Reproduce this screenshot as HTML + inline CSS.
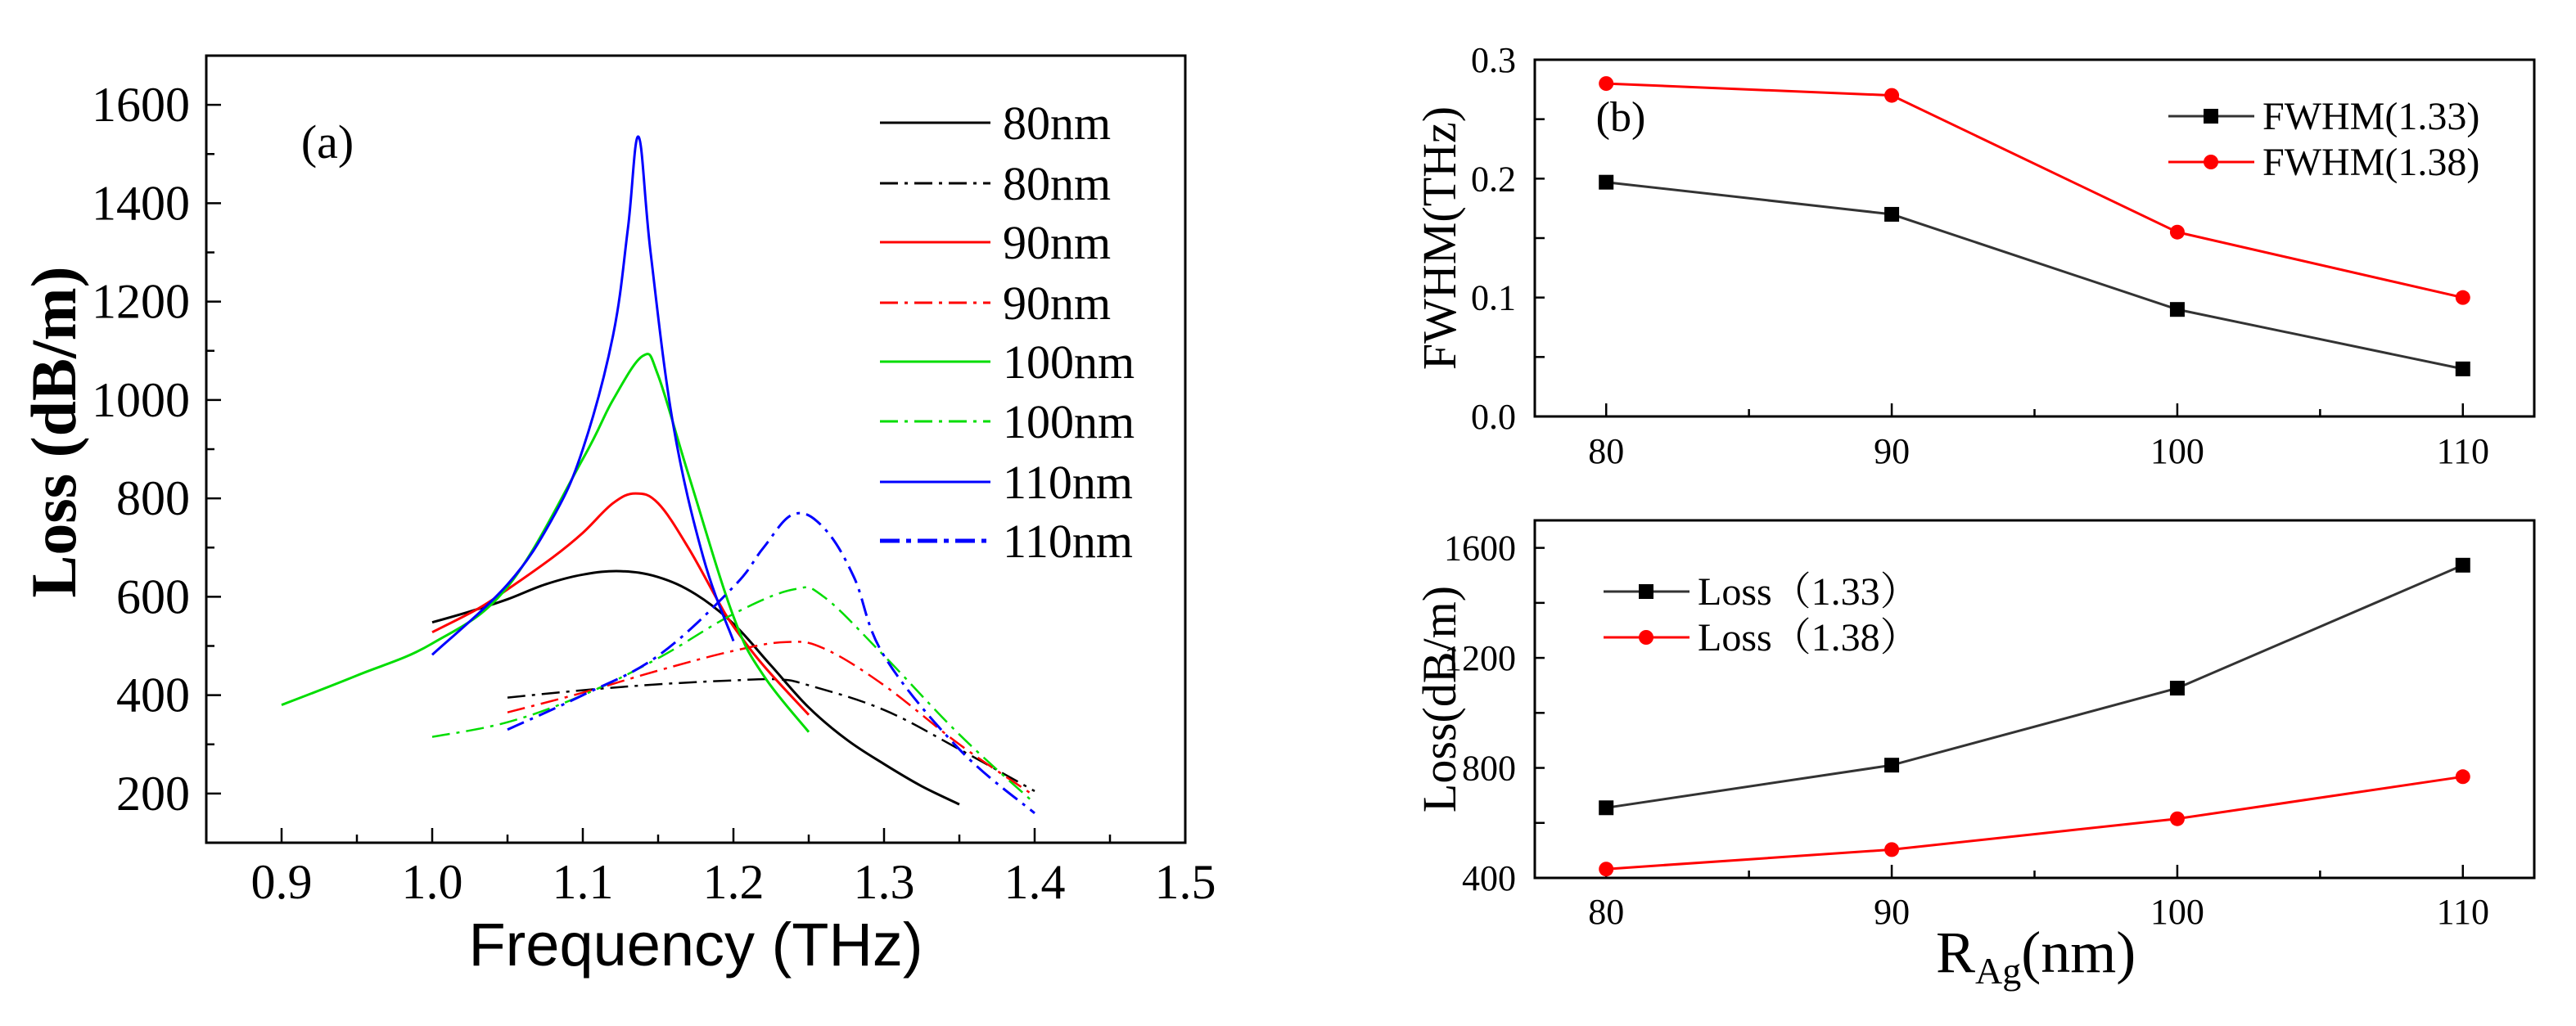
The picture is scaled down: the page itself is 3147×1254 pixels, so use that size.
<!DOCTYPE html>
<html><head><meta charset="utf-8"><style>
html,body{margin:0;padding:0;background:#fff;}
svg{display:block;}
text{font-family:"Liberation Serif",serif;}
</style></head><body>
<svg id="chart" width="3147" height="1254" viewBox="0 0 3147 1254" xmlns="http://www.w3.org/2000/svg">
<rect x="0" y="0" width="3147" height="1254" fill="#fff"/>
<g id="pa"></g>
<g id="pb1"></g>
<g id="pb2"></g>
</svg>
<script>
// ---- Panel (a) data ----
const freq80 = [1.0,1.025,1.05,1.075,1.1,1.125,1.15,1.175,1.2,1.225,1.25,1.275,1.3,1.325,1.35];
const loss80 = [548,570,595,625,645,652,640,605,545,460,375,310,260,215,178];
const freq80d = [1.05,1.1,1.15,1.2,1.23,1.25,1.3,1.35,1.4];
const loss80d = [395,410,422,430,432,420,370,290,205];
const freq90 = [1.0,1.03,1.05,1.08,1.1,1.12,1.135,1.15,1.17,1.19,1.2,1.22,1.25];
const loss90 = [528,575,615,680,730,790,810,790,700,590,540,460,360];
const freq90d = [1.05,1.1,1.15,1.2,1.235,1.26,1.3,1.35,1.4];
const loss90d = [365,405,450,490,508,495,420,300,195];
const freq100 = [0.9,0.95,1.0,1.05,1.1,1.12,1.14,1.15,1.17,1.2,1.22,1.25];
const loss100 = [380,440,505,620,880,1000,1090,1050,850,560,440,325];
const freq100d = [1.0,1.05,1.1,1.15,1.2,1.24,1.26,1.3,1.35,1.4];
const loss100d = [315,345,400,475,565,615,600,480,320,180];
const freq110 = [1.0,1.05,1.08,1.1,1.12,1.13,1.137,1.145,1.16,1.18,1.2];
const loss110 = [482,625,760,900,1130,1350,1535,1300,950,680,510];
const freq110d = [1.05,1.1,1.15,1.2,1.22,1.24,1.26,1.28,1.3,1.35,1.4];
const loss110d = [330,400,480,620,700,768,740,640,480,290,160];
const aXTicks = [0.9,1.0,1.1,1.2,1.3,1.4,1.5];
const aXTickLabels = ["0.9","1.0","1.1","1.2","1.3","1.4","1.5"];
const aYTicks = [200,400,600,800,1000,1200,1400,1600];
const aLegendLabels = ["80nm","80nm","90nm","90nm","100nm","100nm","110nm","110nm"];
// ---- Panel (b) data ----
const radii = [80,90,100,110];
const fwhm133 = [0.197,0.17,0.09,0.04];
const fwhm138 = [0.28,0.27,0.155,0.10];
const lossR133 = [655,810,1090,1537];
const lossR138 = [432,503,615,768];
const bXTickLabels = ["80","90","100","110"];
const b1YTicks = [0,0.1,0.2,0.3];
const b1YTickLabels = ["0.0","0.1","0.2","0.3"];
const b2YTicks = [400,800,1200,1600];

const NS="http://www.w3.org/2000/svg";
function mk(parent,tag,attrs,txt){const e=document.createElementNS(NS,tag);for(const k in attrs)e.setAttribute(k,attrs[k]);if(txt!==undefined)e.textContent=txt;parent.appendChild(e);return e;}
function lin(d0,d1,r0,r1){return v=>r0+(v-d0)/(d1-d0)*(r1-r0);}
function smoothPath(P){let d='M'+P[0][0].toFixed(1)+','+P[0][1].toFixed(1);
 for(let i=0;i<P.length-1;i++){const p0=P[i-1]||P[i],p1=P[i],p2=P[i+1],p3=P[i+2]||P[i+1];const t=0.18;
  const c1=[p1[0]+(p2[0]-p0[0])*t,p1[1]+(p2[1]-p0[1])*t],c2=[p2[0]-(p3[0]-p1[0])*t,p2[1]-(p3[1]-p1[1])*t];
  d+=' C'+c1[0].toFixed(1)+','+c1[1].toFixed(1)+' '+c2[0].toFixed(1)+','+c2[1].toFixed(1)+' '+p2[0].toFixed(1)+','+p2[1].toFixed(1);}
 return d;}

// ===== Panel a =====
const pa=document.getElementById('pa');
const aL=252,aR=1448,aT=68,aB=1030;
const ax=lin(0.85,1.5,aL,aR), ay=lin(100,1700,aB,aT);
let fr=mk(pa,'rect',{x:aL,y:aT,width:aR-aL,height:aB-aT,fill:'none',stroke:'#000','stroke-width':3});


for(let v=0.9;v<=1.5001;v+=0.05){const x=ax(v);const major=Math.abs(v*10-Math.round(v*10))<0.01;
 const t=mk(pa,'line',{x1:x,x2:x,y1:aB,y2:aB-(major?18:10),stroke:'#000','stroke-width':2.5});
 
 }
aXTicks.forEach((v,i)=>{const t=mk(pa,'text',{x:ax(v),y:1098,'font-size':60,'text-anchor':'middle'},aXTickLabels[i]);
 
 });
for(let v=200;v<=1700;v+=100){const y=ay(v);const major=v%200===0;
 const t=mk(pa,'line',{x1:aL,x2:aL+(major?18:10),y1:y,y2:y,stroke:'#000','stroke-width':2.5});
 
 }
aYTicks.forEach(v=>{const t=mk(pa,'text',{x:232,y:ay(v)+20,'font-size':60,'text-anchor':'end'},String(v));
 
 });
let yl=mk(pa,'text',{x:0,y:0,'font-size':78,'font-weight':'bold','text-anchor':'middle',transform:'translate(92,528) rotate(-90)'},'Loss (dB/m)');


let xl=mk(pa,'text',{x:850,y:1180,'font-size':74,'text-anchor':'middle',style:'font-family:"Liberation Sans",sans-serif'},'Frequency (THz)');


let lab=mk(pa,'text',{x:400,y:193,'font-size':58,'text-anchor':'middle'},'(a)');


const DD='22,8,4,8';
const aSeries=[
 [freq80,loss80,'#000',null,3,'curve-80nm-solid'],
 [freq80d,loss80d,'#000',DD,2.5,'curve-80nm-dashdot'],
 [freq90,loss90,'#f00',null,3,'curve-90nm-solid'],
 [freq90d,loss90d,'#f00',DD,2.5,'curve-90nm-dashdot'],
 [freq100,loss100,'#0d0',null,3,'curve-100nm-solid'],
 [freq100d,loss100d,'#0d0',DD,2.5,'curve-100nm-dashdot'],
 [freq110,loss110,'#00f',null,3,'curve-110nm-solid'],
 [freq110d,loss110d,'#00f',DD,3,'curve-110nm-dashdot']];
aSeries.forEach(s=>{const P=s[0].map((f,i)=>[ax(f),ay(s[1][i])]);
 const a={d:smoothPath(P),fill:'none',stroke:s[2],'stroke-width':s[4],'stroke-linejoin':'round'};if(s[3])a['stroke-dasharray']=s[3];
 const p=mk(pa,'path',a);
 
 });
const legY=[150,224,296,370,442,515,589,661];
aSeries.forEach((s,i)=>{const g=mk(pa,'g',{});
 
 
 const a={x1:1075,x2:1210,y1:legY[i],y2:legY[i],stroke:s[2],'stroke-width':i===7?5:3};if(s[3])a['stroke-dasharray']=i===7?'24,8,6,8':s[3];
 mk(g,'line',a);
 mk(g,'text',{x:1225,y:legY[i]+20,'font-size':58},aLegendLabels[i]);});

// ===== Panel b =====
const bL=1875,bR=3096;
const bx=lin(77.5,112.5,bL,bR);
function panel(g,T,B,y0,y1,ticks,tickLabels,minorStep,s1,s2,names,ylabel,xlabY,legX,legY2,legFont){
 const by=lin(y0,y1,B,T);
 const r=mk(g,'rect',{x:bL,y:T,width:bR-bL,height:B-T,fill:'none',stroke:'#000','stroke-width':3});
 
 
 for(let v=80;v<=110;v+=5){const x=bx(v);const t=mk(g,'line',{x1:x,x2:x,y1:B,y2:B-(v%10===0?16:9),stroke:'#000','stroke-width':2.5});
  
  }
 radii.forEach((v,i)=>{const t=mk(g,'text',{x:bx(v),y:xlabY,'font-size':44,'text-anchor':'middle'},bXTickLabels[i]);
  
  });
 for(let v=y0;v<=y1+1e-9;v+=minorStep){const y=by(v);if(y<T+1)continue;const t=mk(g,'line',{x1:bL,x2:bL+12,y1:y,y2:y,stroke:'#000','stroke-width':2.5});
  
  }
 ticks.forEach((v,i)=>{const t=mk(g,'text',{x:1852,y:by(v)+15,'font-size':44,'text-anchor':'end'},tickLabels[i]);
  
  });
 const cy=(T+B)/2;
 const yt=mk(g,'text',{x:0,y:0,'font-size':58,'text-anchor':'middle',transform:'translate(1778,'+cy+') rotate(-90)'},ylabel);
 
 
 [[s1,'#333','square'],[s2,'#f00','circle']].forEach((s,k)=>{
  const vals=s[0];
  const pts=radii.map((r,i)=>bx(r).toFixed(1)+','+by(vals[i]).toFixed(1)).join(' ');
  const p=mk(g,'polyline',{points:pts,fill:'none',stroke:s[1],'stroke-width':3});
  
  
  radii.forEach((r,i)=>{let m;
   if(s[2]==='square')m=mk(g,'rect',{x:bx(r)-9,y:by(vals[i])-9,width:18,height:18,fill:'#000'});
   else m=mk(g,'circle',{cx:bx(r),cy:by(vals[i]),r:9,fill:'#f00'});
   
   });
  const le=mk(g,'g',{});
  
  
  const ly=legY2[k];
  mk(le,'line',{x1:legX,x2:legX+105,y1:ly,y2:ly,stroke:s[1],'stroke-width':3});
  if(s[2]==='square')mk(le,'rect',{x:legX+52-9,y:ly-9,width:18,height:18,fill:'#000'});
  else mk(le,'circle',{cx:legX+52,cy:ly,r:9,fill:'#f00'});
  mk(le,'text',{x:legX+115,y:ly+16,'font-size':legFont,style:'font-family:"Liberation Serif","Noto Serif CJK SC",serif'},names[k+2]);
 });
}
const pb1=document.getElementById('pb1');
panel(pb1,73,509,0,0.3,b1YTicks,b1YTickLabels,0.05,fwhm133,fwhm138,['fwhm-1.33','fwhm-1.38','FWHM(1.33)','FWHM(1.38)'],'FWHM(THz)',566,2649,[142,198],48);
const pb2=document.getElementById('pb2');
panel(pb2,636,1073,400,1700,b2YTicks,b2YTicks.map(String),200,lossR133,lossR138,['loss-1.33','loss-1.38','Loss（1.33）','Loss（1.38）'],'Loss(dB/m)',1129,1959,[723,779],48);
let bl=mk(pb1,'text',{x:1980,y:160,'font-size':52,'text-anchor':'middle'},'(b)');


const rx=mk(pb2,'text',{x:2365,y:1188,'font-size':72},'R');


mk(rx,'tspan',{'font-size':46,dy:14},'Ag');
mk(rx,'tspan',{dy:-14},'(nm)');
</script>
</body></html>
